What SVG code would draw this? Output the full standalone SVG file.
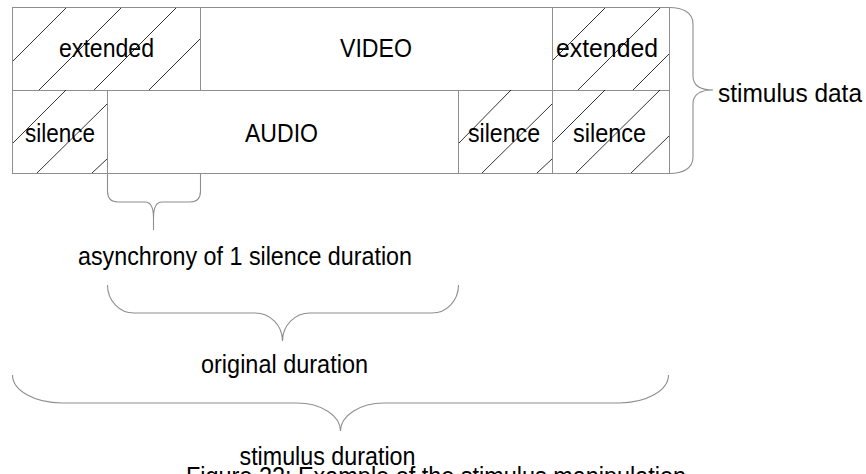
<svg xmlns="http://www.w3.org/2000/svg" width="866" height="474" viewBox="0 0 866 474">
<style>
.box{fill:#fff;stroke:#8e8e8e;stroke-width:1}
.hatch{stroke:#000;stroke-width:0.8;fill:none}
.brace{fill:none;stroke:#8e8e8e;stroke-width:1.1}
text{font-family:"Liberation Sans",Arial,sans-serif;font-size:26px;fill:#000}
</style>
<rect width="866" height="474" fill="#fff"/>
<g id="extended-left">
<rect class="box" x="12.5" y="7.5" width="188" height="83"/>
<path class="hatch" d="M13,61L66,8M39,90L121,8M94,90L176,8M149,90L200,39"/>
<text x="59" y="57" textLength="95" lengthAdjust="spacingAndGlyphs">extended</text>
</g>
<g id="video">
<rect class="box" x="200.5" y="7.5" width="352" height="83"/>
<text x="340" y="57" textLength="72" lengthAdjust="spacingAndGlyphs">VIDEO</text>
</g>
<g id="extended-right">
<rect class="box" x="552.5" y="7.5" width="117" height="83"/>
<path class="hatch" d="M553,60L605,8M578,90L660,8M633,90L669,54"/>
<text x="556" y="57" textLength="102" lengthAdjust="spacingAndGlyphs">extended</text>
</g>
<g id="silence-left">
<rect class="box" x="12.5" y="90.5" width="95" height="83"/>
<path class="hatch" d="M13,143L66,90M37,173L107,104M92,173L107,159"/>
<text x="25" y="142" textLength="70" lengthAdjust="spacingAndGlyphs">silence</text>
</g>
<g id="audio">
<rect class="box" x="107.5" y="90.5" width="351" height="83"/>
<text x="245" y="142" textLength="73" lengthAdjust="spacingAndGlyphs">AUDIO</text>
</g>
<g id="silence-mid">
<rect class="box" x="458.5" y="90.5" width="94" height="83"/>
<path class="hatch" d="M459,143L511,90M482,173L552,104M537,173L552,159"/>
<text x="468" y="142" textLength="72" lengthAdjust="spacingAndGlyphs">silence</text>
</g>
<g id="silence-right">
<rect class="box" x="552.5" y="90.5" width="117" height="83"/>
<path class="hatch" d="M553,142L605,90M576,173L660,90M631,173L669,136"/>
<text x="573" y="142" textLength="73" lengthAdjust="spacingAndGlyphs">silence</text>
</g>
<g id="connectors">
<path class="brace" d="M669.5,7.5C682,7.5 693,12 693,24L693,76C693,85 700,90 713,90C700,90 693,95 693,104L693,157C693,169 682,173.5 669.5,173.5"/>
<path class="brace" d="M107.5,174L107.5,191Q107.5,202 118,202L145,202Q153.5,202 153.5,218L153.5,230M153.5,218Q153.5,202 162,202L190,202Q200.5,202 200.5,191L200.5,174"/>
<path class="brace" d="M107.5,285A26.5 28 0 0 0 134,313L255,313A27.5 28 0 0 1 282.5,341A27.5 28 0 0 1 310,313L432,313A26.5 28 0 0 0 458.5,285"/>
<path class="brace" d="M12.5,375A49.5 28 0 0 0 62,403L297,403A43.5 28 0 0 1 340.5,431A43.5 28 0 0 1 384,403L619,403A49.5 28 0 0 0 668.5,375"/>
</g>
<g id="labels">
<text x="718" y="102" textLength="144" lengthAdjust="spacingAndGlyphs">stimulus data</text>
<text x="78" y="265" textLength="334" lengthAdjust="spacingAndGlyphs">asynchrony of 1 silence duration</text>
<text x="201" y="373" textLength="167" lengthAdjust="spacingAndGlyphs">original duration</text>
<text x="239.5" y="465" textLength="176" lengthAdjust="spacingAndGlyphs">stimulus duration</text>
<text x="186" y="485" textLength="500" lengthAdjust="spacingAndGlyphs">Figure 22: Example of the stimulus manipulation</text>
</g>
</svg>
